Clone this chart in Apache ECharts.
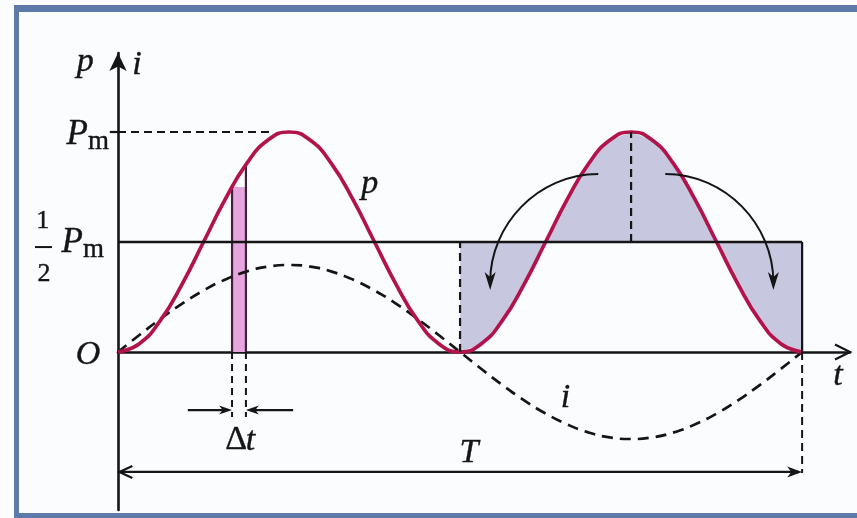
<!DOCTYPE html>
<html>
<head>
<meta charset="utf-8">
<script src="https://cdn.jsdelivr.net/npm/echarts@6/dist/echarts.min.js"></script>
<style>
html,body{margin:0;padding:0;background:#ffffff;}
#chart{width:857px;height:518px;}
</style>
</head>
<body>
<div id="chart"></div>
<script>
// ---------------- data (time in units of the period T) ----------------
const tValues = [0, 0.03125, 0.0625, 0.09375, 0.125, 0.15625, 0.1875, 0.21875,
  0.25, 0.28125, 0.3125, 0.34375, 0.375, 0.40625, 0.4375, 0.46875,
  0.5, 0.53125, 0.5625, 0.59375, 0.625, 0.65625, 0.6875, 0.71875,
  0.75, 0.78125, 0.8125, 0.84375, 0.875, 0.90625, 0.9375, 0.96875, 1];
// instantaneous power p, in units of Pm
const pValues = [0, 0.038, 0.146, 0.309, 0.5, 0.691, 0.854, 0.962,
  1, 0.962, 0.854, 0.691, 0.5, 0.309, 0.146, 0.038,
  0, 0.038, 0.146, 0.309, 0.5, 0.691, 0.854, 0.962,
  1, 0.962, 0.854, 0.691, 0.5, 0.309, 0.146, 0.038, 0];
// current i, in units of its amplitude
const iValues = [0, 0.195, 0.383, 0.556, 0.707, 0.831, 0.924, 0.981,
  1, 0.981, 0.924, 0.831, 0.707, 0.556, 0.383, 0.195,
  0, -0.195, -0.383, -0.556, -0.707, -0.831, -0.924, -0.981,
  -1, -0.981, -0.924, -0.831, -0.707, -0.556, -0.383, -0.195, 0];
// level marks on the p axis
const levelValues = [0, 0.5, 1];
const levelLabels = ['O', '½Pm', 'Pm'];
// the narrow strip Δt: start/end time and p at its edges
const stripT = [0.1667, 0.187];
const stripP = [0.75, 0.85];
// shaded comparison region: from T/2 to T, against p = Pm/2
const shadeFrom = 0.5;
const shadeTo = 1;
const peakT = 0.75;

// ---------------- layout (annotation geometry, data coordinates) ----------------
const L = {
  pmDashEnd: 0.222,
  stripDashBottom: -0.295,
  deltaY: -0.264,
  deltaOuter: [0.102, 0.256],
  periodY: -0.545,
  rightDashBottom: -0.55,
  xEnd: 1.07,
  arcs: [
    { from: [0.702, 0.809], to: [0.544, 0.282] },
    { from: [0.800, 0.809], to: [0.958, 0.282] }
  ],
  // label anchors: [t, baseline p]
  topP: [-0.048, 1.264],
  topI: [0.0278, 1.25],
  pmP: [-0.0439, 0.932], pmM: [-0.0439, 0.915],
  halfP: [-0.0512, 0.441], halfM: [-0.0512, 0.424],
  halfOne: [-0.110, 0.555], halfTwo: [-0.108, 0.314], halfBar: [-0.1213, -0.0965, 0.477],
  origin: [-0.0439, -0.068],
  curveP: [0.368, 0.709],
  delta: [0.1886, -0.455],
  period: [0.513, -0.514],
  troughI: [0.654, -0.264],
  axisT: [1.0526, -0.164]
};

const FONT_FAMILY = "'Liberation Serif', 'Times New Roman', Times, serif";
const INK = '#151515';
const RED = '#b3134b';
const SHADE = '#c7c7e0';
const PINK = '#e4a6dc';
const STRIP_LINE = '#40203e';

function seriesPairs(xs, ys) { return xs.map((x, k) => [x, ys[k]]); }

function line(api, a, b, width, dash, color) {
  const p1 = api.coord(a), p2 = api.coord(b);
  return {
    type: 'line',
    shape: { x1: p1[0], y1: p1[1], x2: p2[0], y2: p2[1] },
    style: { stroke: color || INK, lineWidth: width || 2, lineDash: dash || null, lineCap: 'butt' }
  };
}
function filledHead(tip, dir, len, w, color) {
  const px = -dir[1], py = dir[0];
  const bx = tip[0] - dir[0] * len, by = tip[1] - dir[1] * len;
  const nx = tip[0] - dir[0] * len * 0.72, ny = tip[1] - dir[1] * len * 0.72;
  return {
    type: 'polygon',
    shape: { points: [tip, [bx + px * w / 2, by + py * w / 2], [nx, ny], [bx - px * w / 2, by - py * w / 2]] },
    style: { fill: color || INK }
  };
}
function openHead(tip, dir, len, w) {
  const px = -dir[1], py = dir[0];
  const bx = tip[0] - dir[0] * len, by = tip[1] - dir[1] * len;
  return {
    type: 'polyline',
    shape: { points: [[bx + px * w / 2, by + py * w / 2], tip, [bx - px * w / 2, by - py * w / 2]] },
    style: { stroke: INK, lineWidth: 2.2, fill: null }
  };
}
function text(api, at, str, size, italic, align) {
  const p = api.coord(at);
  return {
    type: 'text',
    x: p[0], y: p[1] - 0.34 * size,
    style: {
      text: str,
      font: (italic ? 'italic ' : '') + size + 'px ' + FONT_FAMILY,
      fill: INK, align: align || 'center', verticalAlign: 'middle',
      stroke: INK, lineWidth: 0.4
    }
  };
}

function renderShade(params, api) {
  const pts = [];
  for (let k = 0; k < tValues.length; k++) {
    if (tValues[k] >= shadeFrom && tValues[k] <= shadeTo) pts.push(api.coord([tValues[k], pValues[k]]));
  }
  pts.push(api.coord([shadeTo, levelValues[1]]));
  pts.push(api.coord([shadeFrom, levelValues[1]]));
  return { type: 'polygon', shape: { points: pts }, style: { fill: SHADE } };
}

function renderStrip(params, api) {
  const a = api.coord([stripT[0], stripP[0]]);
  const b = api.coord([stripT[1], 0]);
  return {
    type: 'group',
    children: [
      { type: 'rect', shape: { x: a[0], y: a[1], width: b[0] - a[0], height: b[1] - a[1] }, style: { fill: PINK } },
      line(api, [stripT[0], 0], [stripT[0], stripP[0]], 2.2, null, STRIP_LINE),
      line(api, [stripT[1], 0], [stripT[1], stripP[1]], 2.2, null, STRIP_LINE)
    ]
  };
}

function renderNotes(params, api) {
  const ch = [];
  const half = levelValues[1], top = levelValues[2];
  // Pm guide and tick
  ch.push(line(api, [0, top], [L.pmDashEnd, top], 2.2, [8, 5]));
  ch.push(line(api, [-0.012, top], [0, top], 2.2));
  // mean power level and rectangle edges
  ch.push(line(api, [0, half], [shadeTo, half], 2.4));
  ch.push(line(api, [shadeTo, 0], [shadeTo, half], 2.2));
  ch.push(line(api, [shadeFrom, 0], [shadeFrom, half], 2.2, [8, 5]));
  ch.push(line(api, [peakT, half], [peakT, top], 2.2, [8, 5]));
  ch.push(line(api, [shadeTo, 0], [shadeTo, L.rightDashBottom], 2, [8, 5]));
  // strip extension dashes
  ch.push(line(api, [stripT[0], 0], [stripT[0], L.stripDashBottom], 2, [7, 5]));
  ch.push(line(api, [stripT[1], 0], [stripT[1], L.stripDashBottom], 2, [7, 5]));
  // Δt arrows
  ch.push(line(api, [L.deltaOuter[0], L.deltaY], [stripT[0] - 0.012, L.deltaY], 2.2));
  ch.push(filledHead(api.coord([stripT[0], L.deltaY]), [1, 0], 13, 9));
  ch.push(line(api, [L.deltaOuter[1], L.deltaY], [stripT[1] + 0.012, L.deltaY], 2.2));
  ch.push(filledHead(api.coord([stripT[1], L.deltaY]), [-1, 0], 13, 9));
  // period arrow
  ch.push(line(api, [0.002, L.periodY], [shadeTo - 0.012, L.periodY], 2.2));
  ch.push(openHead(api.coord([0.002, L.periodY]), [-1, 0], 13, 12));
  ch.push(filledHead(api.coord([shadeTo, L.periodY]), [1, 0], 15, 11));
  // x axis arrow
  ch.push(openHead(api.coord([L.xEnd, 0]), [1, 0], 15, 15));
  // curved arrows
  L.arcs.forEach(arc => {
    const s = api.coord(arc.from), e = api.coord(arc.to);
    const k = 0.56;
    ch.push({
      type: 'bezierCurve',
      shape: {
        x1: s[0], y1: s[1],
        cpx1: s[0] + (e[0] - s[0]) * k, cpy1: s[1],
        cpx2: e[0], cpy2: e[1] - (e[1] - s[1]) * k,
        x2: e[0], y2: e[1] - 8
      },
      style: { stroke: INK, lineWidth: 2, fill: null }
    });
    ch.push(filledHead(e, [0, 1], 18, 11));
  });
  // labels
  ch.push(text(api, L.topP, 'p', 34, true));
  ch.push(text(api, L.topI, 'i', 34, true));
  ch.push(text(api, L.pmP, 'P', 35, true, 'right'));
  ch.push(text(api, L.pmM, 'm', 27, false, 'left'));
  ch.push(text(api, L.halfP, 'P', 35, true, 'right'));
  ch.push(text(api, L.halfM, 'm', 27, false, 'left'));
  ch.push(text(api, L.halfOne, '1', 26, false));
  ch.push(text(api, L.halfTwo, '2', 26, false));
  ch.push(line(api, [L.halfBar[0], L.halfBar[2]], [L.halfBar[1], L.halfBar[2]], 2));
  ch.push(text(api, L.origin, 'O', 34, true));
  ch.push(text(api, L.curveP, 'p', 34, true));
  ch.push(text(api, L.delta, 'Δ', 34, false, 'right'));
  ch.push(text(api, [L.delta[0] - 0.002, L.delta[1]], 't', 34, true, 'left'));
  ch.push(text(api, L.period, 'T', 34, true));
  ch.push(text(api, L.troughI, 'i', 34, true));
  ch.push(text(api, L.axisT, 't', 34, true));
  return { type: 'group', children: ch };
}

const chart = echarts.init(document.getElementById('chart'), null, { renderer: 'canvas' });
chart.setOption({
  animation: false,
  backgroundColor: '#fbfcfe',
  grid: { left: 118, right: 7, top: 53, bottom: 8 },
  xAxis: {
    type: 'value', min: 0, max: L.xEnd,
    axisLine: { show: true, onZero: true, lineStyle: { color: INK, width: 2.6 } },
    axisTick: { show: false }, axisLabel: { show: false }, splitLine: { show: false }
  },
  yAxis: [
    {
      type: 'value', min: -0.718, max: 1.359,
      axisLine: { show: true, onZero: false, symbol: ['none', 'arrow'], symbolSize: [13, 18], lineStyle: { color: INK, width: 2.6 } },
      axisTick: { show: false }, axisLabel: { show: false }, splitLine: { show: false }
    },
    { type: 'value', min: -1.816, max: 3.437, show: false, splitLine: { show: false } }
  ],
  graphic: [
    { type: 'rect', shape: { x: 14, y: 5, width: 843, height: 7 }, style: { fill: '#5d7aab' }, z: 100 },
    { type: 'rect', shape: { x: 14, y: 5, width: 5, height: 513 }, style: { fill: '#5d7aab' }, z: 100 },
    { type: 'rect', shape: { x: 14, y: 513, width: 843, height: 5 }, style: { fill: '#5d7aab' }, z: 100 }
  ],
  series: [
    { type: 'custom', coordinateSystem: 'cartesian2d', renderItem: renderShade, data: [[0, 0]], z: 1, silent: true, clip: false },
    { type: 'custom', coordinateSystem: 'cartesian2d', renderItem: renderStrip, data: [[0, 0]], z: 2, silent: true, clip: false },
    {
      type: 'line', name: 'i', yAxisIndex: 1, data: seriesPairs(tValues, iValues), smooth: 0.5,
      showSymbol: false, z: 3, lineStyle: { color: INK, width: 2.7, type: [11, 7] }
    },
    {
      type: 'line', name: 'p', data: seriesPairs(tValues, pValues), smooth: 0.5,
      showSymbol: false, z: 4, lineStyle: { color: RED, width: 3.7 }
    },
    { type: 'custom', coordinateSystem: 'cartesian2d', renderItem: renderNotes, data: [[0, 0]], z: 5, silent: true, clip: false }
  ]
});
</script>
</body>
</html>
